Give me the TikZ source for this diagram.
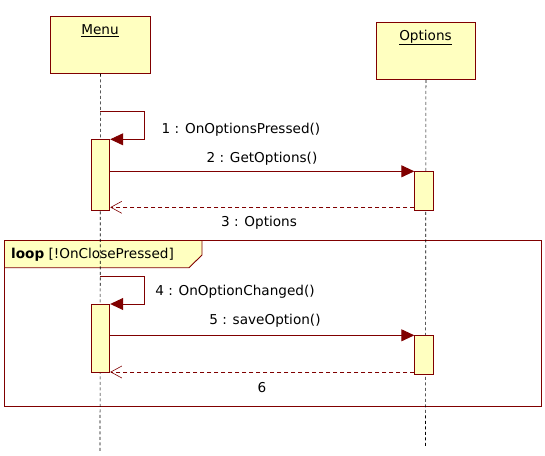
\documentclass[tikz,border=0pt]{standalone}
\usepackage{fontspec}
\setmainfont{DejaVu Sans}
\usetikzlibrary{arrows.meta}
\definecolor{umlred}{HTML}{800000}
\definecolor{umlfill}{HTML}{FFFFC0}
\tikzset{
  objbox/.style={draw=umlred, fill=umlfill, line width=0.9pt, inner sep=0pt, anchor=north west},
  act/.style={draw=umlred, fill=umlfill, line width=0.9pt, inner sep=0pt, minimum width=18.5, anchor=north},
  life/.style={black, line width=0.6pt, dash pattern=on 3pt off 2.5pt},
  msg/.style={umlred, line width=0.9pt, -{Triangle[length=13pt,width=12pt]}},
  ret/.style={umlred, line width=0.8pt, dash pattern=on 4pt off 3pt, -{Straight Barb[length=11pt,width=12pt,line width=0.6pt]}},
  lbl/.style={inner sep=0pt, text=black},
  frame/.style={draw=umlred, line width=0.9pt}
}
\begin{document}
\begin{tikzpicture}[x=1pt, y=-1pt, font=\fontsize{13.6}{16}\selectfont]
\useasboundingbox[fill=white] (0,0) rectangle (545,455);

% loop frame
\draw[frame] (4.5,240.5) rectangle (541.5,406);
\filldraw[frame, fill=umlfill] (4.5,240.5) -- (202,240.5) -- (202,255) -- (189,267.7) -- (4.5,267.7) -- cycle;
\node[lbl, anchor=west] (looplbl) at (11,255) {\textbf{loop} [!OnClosePressed]};

% objects
\node[objbox, minimum width=100, minimum height=57] (menu) at (50,16) {};
\node[lbl] (menulbl) at (100,31) {\underline{Menu}};
\node[objbox, minimum width=99, minimum height=57] (opt) at (376,22) {};
\node[lbl] (optlbl) at (425.5,37.5) {\underline{Options}};

% lifelines
\coordinate (menuend) at (100,452);
\coordinate (optend) at (425.5,447);
\draw[life] (menu.south) -- (menuend);
\draw[life] (opt.south) -- (optend);

% activations
\node[act, minimum height=71] (a1) at (100.5,139.3) {};
\node[act, minimum height=39] (o1) at (424,171.3) {};
\node[act, minimum height=68] (a2) at (100.5,304) {};
\node[act, minimum height=39] (o2) at (424,335.3) {};

% message 1 (self)
\coordinate (s1) at (100,111);
\draw[msg] (s1) -- ++(44.5,0) |- (a1.north east);
\node[lbl] (m1) at (241,130) {1 : OnOptionsPressed()};

% message 2
\draw[msg] (a1.east |- o1.north) -- (o1.north west);
\node[lbl] (m2) at (262,159) {2 : GetOptions()};

% return 3
\coordinate (r3) at (0,207.3);
\draw[ret] (o1.west |- r3) -- (a1.east |- r3);
\node[lbl] (m3) at (259,222.5) {3 : Options};

% message 4 (self)
\coordinate (s4) at (100,276.7);
\draw[msg] (s4) -- ++(44.5,0) |- (a2.north east);
\node[lbl] (m4) at (235,292) {4 : OnOptionChanged()};

% message 5
\draw[msg] (a2.east |- o2.north) -- (o2.north west);
\node[lbl] (m5) at (265,321) {5 : saveOption()};

% return 6
\coordinate (r6) at (0,372);
\draw[ret] (o2.west |- r6) -- (a2.east |- r6);
\node[lbl] (m6) at (262,388) {6};
\end{tikzpicture}
\end{document}
